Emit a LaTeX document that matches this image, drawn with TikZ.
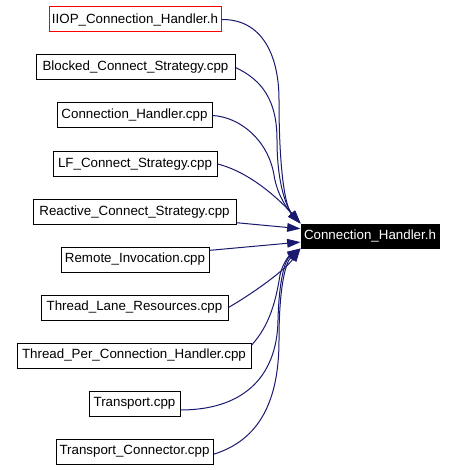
\documentclass[tikz,border=0pt]{standalone}
\usepackage{fontspec}
\setmainfont{Liberation Sans}
\usetikzlibrary{arrows.meta}
\definecolor{edgeblue}{RGB}{25,25,112}
\begin{document}
\begin{tikzpicture}[x=0.75pt,y=-0.75pt,
  file/.style={draw=black,line width=0.75pt,fill=white,inner sep=0pt,minimum height=18.75pt,font=\fontsize{10}{12}\selectfont},
  target/.style={draw=black,line width=0.75pt,fill=black,text=white,inner sep=0pt,minimum height=18pt,minimum width=103.5pt,font=\fontsize{10}{12}\selectfont},
  dep/.style={draw=edgeblue,line width=0.75pt,-{Triangle[length=10pt,width=6.5pt]},fill=none}]
\useasboundingbox (0,0) rectangle (456,470);
\fill[white] (0,0) rectangle (456,470);
\node[file,draw=red,minimum width=129pt] (iiop) at (135,19.5) {IIOP\_Connection\_Handler.h};
\node[file,minimum width=149.25pt] (blocked) at (135.5,67.5) {Blocked\_Connect\_Strategy.cpp};
\node[file,minimum width=116.25pt] (chcpp) at (134.5,115.5) {Connection\_Handler.cpp};
\node[file,minimum width=123pt] (lf) at (135,164) {LF\_Connect\_Strategy.cpp};
\node[file,minimum width=152.25pt] (reactive) at (134.5,212) {Reactive\_Connect\_Strategy.cpp};
\node[file,minimum width=111pt] (remote) at (135,259.5) {Remote\_Invocation.cpp};
\node[file,minimum width=140.25pt] (tlane) at (134.5,307.5) {Thread\_Lane\_Resources.cpp};
\node[file,minimum width=175.5pt] (tper) at (134,355.5) {Thread\_Per\_Connection\_Handler.cpp};
\node[file,minimum width=68.25pt] (transport) at (134.5,403.5) {Transport.cpp};
\node[file,minimum width=117.75pt] (tconn) at (134.5,451.5) {Transport\_Connector.cpp};
\node[target] (ch) at (370,236) {Connection\_Handler.h};

\draw[dep] (iiop.east) .. controls (262,19) and (279,55) .. (279,100) .. controls (279,175) and (286,208) .. (ch.north west);
\draw[dep] (blocked.east) .. controls (262,80) and (277,100) .. (277,140) .. controls (277,185) and (287,208) .. (ch.north west);
\draw[dep] (chcpp.east) .. controls (240,117) and (268,140) .. (274,175) .. controls (277,195) and (288,210) .. (ch.north west);
\draw[dep] (lf.east) .. controls (250,172) and (280,200) .. (ch.north west);
\draw[dep] (reactive.-6) -- (ch.174);
\draw[dep] (remote.7) -- (ch.185);
\draw[dep] (tlane.east) .. controls (255,292) and (285,270) .. (ch.south west);
\draw[dep] (tper.5) .. controls (270,325) and (276,300) .. (280,275) .. controls (283,262) and (290,255) .. (ch.south west);
\draw[dep] (transport.-8) .. controls (240,410) and (277,380) .. (278,320) .. controls (279,280) and (285,260) .. (ch.south west);
\draw[dep] (tconn.-2) .. controls (260,440) and (279,400) .. (279,340) .. controls (279,285) and (286,262) .. (ch.south west);
\end{tikzpicture}
\end{document}
